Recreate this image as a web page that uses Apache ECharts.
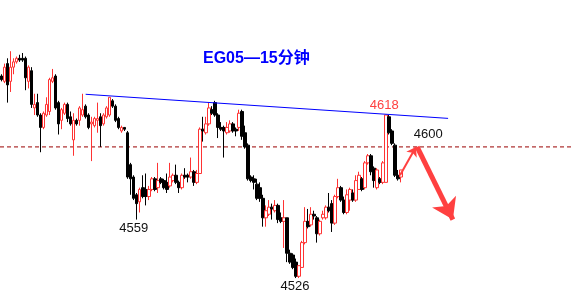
<!DOCTYPE html>
<html>
<head>
<meta charset="utf-8">
<script src="https://cdn.jsdelivr.net/npm/echarts@6/dist/echarts.min.js"></script>
<style>
html,body{margin:0;padding:0;background:#fff;}
#chart{width:571px;height:305px;}
</style>
</head>
<body>
<div id="chart"></div>
<script>
// ---- data (15-minute candles, price units) ----
var opens = [
4640,4637,4647,4637,4645,4648,4650,4650,4650,4637,4643,4622,4625,4618,4611,4618,4620,4637,4640,4625,4615,4619,4624,
4617,4604,4615,4615,4618,4623,4618,4613,4612,4615,4617,4613,4617,4618,4626,4623,4616,4609,4611,4608,4590,4583,4573,
4569,4577,4576,4572,4576,4582,4577,4582,4581,4580,4578,4581,4584,4580,4577,4584,4584,4583,4586,4580,4585,
4610,4608,4613,4621,4625,4618,4611,4611,4608,4609,4613,4610,4611,4620,4608,4601,
4583,4582,4579,4577,4571,4560,4562,4566,4564,4567,4560,4558,4560,4540,4539,4535,
4527,4532,4546,4558,4556,4562,4560,4551,4560,4560,4566,4568,4557,4572,4577,4570,4563,4570,4574,4570,4576,4582,4577,4591,4595,4588,4577,4582,4580,4580,4617,4609,4601,4584,4583
];
var closes = [
4638,4645,4635,4645,4648,4650,4649,4649,4639,4645,4624,4624,4618,4611,4619,4624,4638,4639,4622,4613,4621,4624,4616,
4613,4615,4613,4622,4621,4617,4611,4614,4616,4616,4612,4618,4622,4628,4623,4615,4611,4611,4610,4583,4582,4571,4568,
4576,4572,4572,4576,4582,4576,4581,4580,4577,4576,4583,4584,4580,4577,4584,4583,4583,4586,4580,4585,4610,
4609,4613,4622,4619,4618,4611,4610,4609,4611,4613,4609,4609,4619,4606,4600,4582,
4581,4580,4571,4571,4560,4564,4566,4565,4567,4559,4558,4560,4540,4535,4532,4527,
4533,4546,4558,4555,4562,4561,4551,4558,4562,4566,4564,4557,4572,4577,4570,4563,4573,4576,4570,4581,4584,4576,4591,4595,4586,4581,4587,4580,4591,4618,4608,4602,4584,4582,4587
];
var lows = [
4637,4636,4625,4631,4641,4647,4648,4648,4632,4633,4622,4618,4617,4597,4610,4617,4618,4636,4621,4607,4610,4618,4614,
4612,4595,4612,4612,4617,4616,4610,4592,4611,4608,4600,4612,4616,4617,4622,4614,4610,4608,4609,4582,4573,4570,4559,
4563,4571,4567,4570,4575,4575,4574,4579,4576,4574,4577,4580,4579,4574,4576,4582,4580,4582,4578,4579,4585,
4603,4607,4612,4618,4617,4605,4609,4594,4607,4608,4608,4606,4609,4604,4599,4581,
4580,4576,4570,4569,4555,4555,4561,4559,4563,4557,4557,4543,4535,4534,4531,4526,
4526,4532,4545,4554,4555,4559,4546,4550,4559,4559,4563,4552,4556,4571,4569,4562,4562,4564,4569,4569,4576,4575,4576,4590,4584,4577,4576,4579,4579,4580,4607,4601,4583,4581,4580
];
var highs = [
4641,4647,4650,4654,4650,4651,4652,4653,4651,4646,4645,4630,4630,4619,4620,4628,4639,4644,4641,4626,4622,4625,4625,
4620,4619,4616,4623,4630,4624,4619,4617,4617,4625,4619,4619,4623,4628,4627,4624,4617,4612,4611,4609,4591,4584,4574,
4577,4584,4585,4578,4583,4583,4591,4583,4582,4585,4591,4585,4590,4581,4585,4588,4585,4594,4587,4587,4611,
4617,4617,4625,4623,4626,4619,4614,4612,4614,4615,4614,4611,4621,4621,4612,4602,
4584,4584,4582,4580,4573,4567,4570,4568,4570,4568,4563,4570,4560,4542,4540,4537,
4533,4547,4566,4565,4566,4564,4561,4559,4564,4567,4574,4570,4573,4582,4578,4572,4576,4577,4576,4584,4586,4583,4592,4596,4596,4589,4588,4583,4592,4618,4618,4610,4602,4587,4587
];
var slotCount = 190; // time slots on the axis (candles + empty future)
var categories = [];
for (var i = 0; i < slotCount; i++) categories.push(String(i + 1));

// annotated prices: [candle index, price]
var peakLabel = [128, 4618];
var lowLabel1 = [45, 4559];
var lowLabel2 = [98, 4526];
var targetLabel = [138, 4600];
var resistance = 4600;

// trend line, resistance line and projected moves, in [slot, price]
var trendLine = [[28.5, 4629.7], [149.1, 4616.1]];
var resistanceLine = [[0, resistance], [slotCount, resistance]];
var arrowUp = [[133.1, 4584], [138.4, 4600]];
var arrowDown = [[138.8, 4600], [150.7, 4559]];

var candleData = opens.map(function (o, k) { return [o, closes[k], lows[k], highs[k]]; });

var chart = echarts.init(document.getElementById('chart'), null, {renderer: 'canvas'});
var labelFont = 'Arial, "Liberation Sans", sans-serif';
chart.setOption({
  animation: false,
  backgroundColor: '#ffffff',
  title: {
    text: 'EG05—15分钟',
    left: 198, top: 46,
    textStyle: {color: '#0000ff', fontSize: 16, fontWeight: 'bold', fontFamily: 'Arial, "Noto Sans CJK SC", sans-serif'}
  },
  grid: {left: 0, right: 0, top: 0, bottom: 0, containLabel: false},
  xAxis: [
    {type: 'category', data: categories, boundaryGap: true, show: false},
    {type: 'value', min: 0, max: slotCount, show: false}
  ],
  yAxis: [{type: 'value', min: 4510.8, max: 4682.9, show: false}],
  series: [
    {
      type: 'line', xAxisIndex: 1, yAxisIndex: 0,
      data: resistanceLine, symbol: 'none', silent: true, z: 1,
      lineStyle: {color: '#9a0000', width: 1, type: [4, 3]}
    },
    {
      type: 'candlestick',
      data: candleData,
      barWidth: 3, z: 2,
      itemStyle: {color: '#ffffff', color0: '#000000', borderColor: '#ff3333', borderColor0: '#000000', borderWidth: 1},
      markPoint: {
        symbol: 'circle', symbolSize: 0, silent: true,
        data: [
          {coord: [categories[peakLabel[0]], peakLabel[1]], value: String(peakLabel[1]),
           label: {show: true, position: 'top', distance: 3, offset: [-2, 0], color: '#ff4040', fontSize: 13, fontFamily: labelFont}},
          {coord: [categories[lowLabel1[0]], lowLabel1[1]], value: String(lowLabel1[1]),
           label: {show: true, position: 'bottom', distance: 2, offset: [-3, 0], color: '#111111', fontSize: 13, fontFamily: labelFont}},
          {coord: [categories[lowLabel2[0]], lowLabel2[1]], value: String(lowLabel2[1]),
           label: {show: true, position: 'bottom', distance: 2, offset: [-1, 0], color: '#111111', fontSize: 13, fontFamily: labelFont}},
          {coord: [categories[targetLabel[0]], targetLabel[1]], value: String(targetLabel[1]),
           label: {show: true, position: 'top', distance: 6, offset: [12, 0], color: '#111111', fontSize: 13, fontFamily: labelFont}}
        ]
      }
    },
    {
      type: 'line', xAxisIndex: 1, yAxisIndex: 0,
      data: trendLine, symbol: 'none', silent: true, z: 3,
      lineStyle: {color: '#0000ff', width: 1}
    },
    {
      type: 'lines', coordinateSystem: 'cartesian2d', xAxisIndex: 1, yAxisIndex: 0,
      silent: true, z: 4,
      symbol: ['none', 'arrow'], symbolSize: 9,
      lineStyle: {color: '#ff4040', width: 2, opacity: 1, curveness: 0},
      data: [{coords: arrowUp}]
    },
    {
      type: 'lines', coordinateSystem: 'cartesian2d', xAxisIndex: 1, yAxisIndex: 0,
      silent: true, z: 4,
      symbol: ['none', 'arrow'], symbolSize: 20,
      lineStyle: {color: '#ff4040', width: 5, opacity: 1, curveness: 0},
      data: [{coords: arrowDown}]
    }
  ]
});
</script>
</body>
</html>
